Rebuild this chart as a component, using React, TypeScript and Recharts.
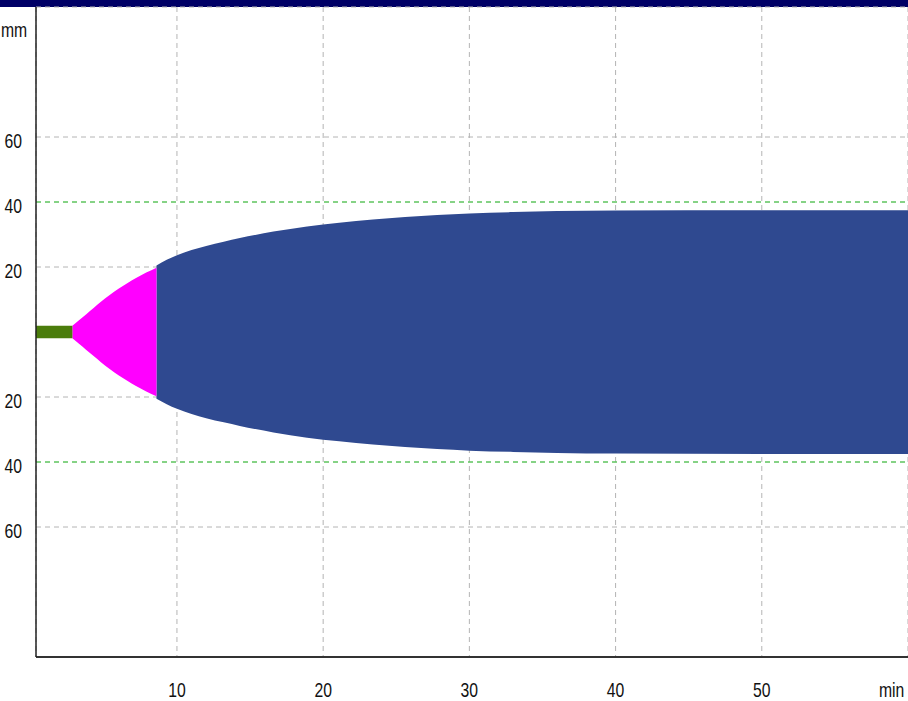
import React from "react";
import {
  ComposedChart,
  Area,
  XAxis,
  YAxis,
  CartesianGrid,
  ReferenceLine,
} from "recharts";

// time in minutes, half-width of the trace in mm
const greenTimes = [0.36, 2.85];
const greenHalf = [1.9, 1.9];
const pinkTimes = [2.85, 3.3, 3.8, 4.3, 4.8, 5.4, 6.0, 6.6, 7.2, 7.9, 8.6];
const pinkHalf = [1.9, 3.6, 5.5, 7.4, 9.3, 11.4, 13.3, 15.0, 16.6, 18.3, 19.8];
const blueTimes = [8.6, 9.3, 10, 11, 12, 13.2, 14.3, 16.6, 18.9, 21.1, 23.4, 25.6, 27.8, 30, 33, 36, 40, 50, 60];
const blueHalf = [20.5, 22.2, 23.6, 25.2, 26.5, 27.8, 28.9, 30.9, 32.5, 33.6, 34.6, 35.4, 36.0, 36.5, 36.9, 37.2, 37.4, 37.5, 37.5];

const xTicks = [10, 20, 30, 40, 50];
const yTicks = [-60, -40, -20, 20, 40, 60];
const limitLines = [-40, 40];

const FONT = "'Liberation Sans', Arial, sans-serif";
const FONT_SIZE = 21;
const SQUEEZE = 0.75;

type Row = { t: number; green?: number[]; pink?: number[]; blue?: number[] };

const buildRows = (): Row[] => {
  const rows = new Map<number, Row>();
  const add = (times: number[], half: number[], key: "green" | "pink" | "blue") => {
    times.forEach((t, i) => {
      const row = rows.get(t) ?? { t };
      row[key] = [-half[i], half[i]];
      rows.set(t, row);
    });
  };
  add(greenTimes, greenHalf, "green");
  add(pinkTimes, pinkHalf, "pink");
  add(blueTimes, blueHalf, "blue");
  return Array.from(rows.values()).sort((a, b) => a.t - b.t);
};

const data = buildRows();

// narrow tick text, like the condensed font of the original
const XTick = (props: any) => {
  const { x, y, payload } = props;
  return (
    <g transform={`translate(${x},${y}) scale(${SQUEEZE},1)`}>
      <text x={0} y={0} textAnchor="middle" fill="#111" fontSize={FONT_SIZE} fontFamily={FONT}>
        {payload.value}
      </text>
    </g>
  );
};

const YTick = (props: any) => {
  const { x, y, payload } = props;
  return (
    <g transform={`translate(${x},${y + 11}) scale(${SQUEEZE},1)`}>
      <text x={0} y={0} textAnchor="end" fill="#111" fontSize={FONT_SIZE} fontFamily={FONT}>
        {Math.abs(payload.value)}
      </text>
    </g>
  );
};

const labelStyle: React.CSSProperties = {
  position: "absolute",
  fontSize: FONT_SIZE,
  fontFamily: FONT,
  lineHeight: "24px",
  color: "#111",
  whiteSpace: "nowrap",
  transform: `scaleX(${SQUEEZE})`,
  transformOrigin: "left top",
};

export default function App() {
  return (
    <div
      style={{
        position: "fixed",
        top: 0,
        left: 0,
        width: 908,
        height: 701,
        background: "#ffffff",
        overflow: "hidden",
      }}
    >
      <div style={{ position: "absolute", top: 0, left: 0, width: 908, height: 7, background: "#000066" }} />
      <ComposedChart
        width={908}
        height={701}
        data={data}
        margin={{ top: 7, right: 0, bottom: 0, left: 0 }}
      >
        <CartesianGrid stroke="#b4b4b4" strokeDasharray="5 4" />
        <XAxis
          dataKey="t"
          type="number"
          domain={[0.36, 60]}
          ticks={xTicks}
          height={44}
          tickLine={false}
          tickSize={0}
          tickMargin={40}
          axisLine={{ stroke: "#333333", strokeWidth: 2 }}
          tick={<XTick />}
          allowDataOverflow
        />
        <YAxis
          type="number"
          domain={[-100, 100]}
          ticks={yTicks}
          width={36}
          tickLine={false}
          tickSize={0}
          tickMargin={14}
          axisLine={{ stroke: "#222222", strokeWidth: 1.5 }}
          tick={<YTick />}
          allowDataOverflow
        />
        <Area
          dataKey="blue"
          type="monotone"
          stroke="none"
          fill="#2f4990"
          fillOpacity={1}
          isAnimationActive={false}
        />
        <Area
          dataKey="pink"
          type="monotone"
          stroke="none"
          fill="#ff00ff"
          fillOpacity={1}
          isAnimationActive={false}
        />
        <Area
          dataKey="green"
          type="linear"
          stroke="none"
          fill="#4b7d0c"
          fillOpacity={1}
          isAnimationActive={false}
        />
        {limitLines.map((v) => (
          <ReferenceLine key={v} y={v} stroke="#33cc33" strokeDasharray="5 4" />
        ))}
      </ComposedChart>
      <span style={{ ...labelStyle, left: 1, top: 18 }}>mm</span>
      <span style={{ ...labelStyle, left: 879, top: 678 }}>min</span>
    </div>
  );
}
